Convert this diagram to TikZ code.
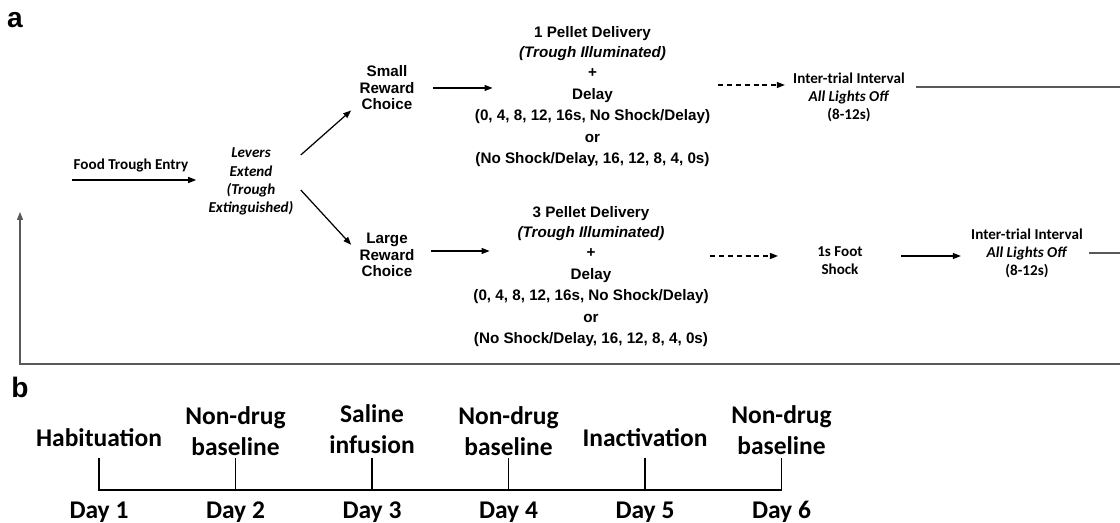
\documentclass[tikz,border=0pt]{standalone}
\usepackage{fontspec}
\setmainfont{Carlito}
\newfontfamily\arialfont{Liberation Sans}
\usepackage{tikz}
\usetikzlibrary{positioning,arrows.meta,calc}

\begin{document}
\begin{tikzpicture}[>={Triangle[length=1.6mm,width=1.2mm]},
  armtxt/.style={font=\arialfont\fontsize{8.66}{9.4}\selectfont\bfseries, align=center, inner sep=0pt},
  pelletbox/.style={armtxt, font=\arialfont\fontsize{8.66}{10.8}\selectfont\bfseries},
  calitxt/.style={font=\fontsize{8.6}{10.3}\selectfont\bfseries, align=center, inner sep=0pt},
  panel/.style={font=\arialfont\fontsize{16}{16}\selectfont\bfseries, inner sep=0pt},
  flowarr/.style={->, line width=0.7pt},
  waitarr/.style={->, line width=0.7pt, dash pattern=on 2.8pt off 2.2pt},
  backline/.style={draw=black!65, line width=0.7pt},
  phase/.style={font=\fontsize{14.5}{17.4}\selectfont\bfseries, align=center, inner sep=0pt},
  tl/.style={line width=1.1pt}]

\useasboundingbox (0,0) rectangle (22.4,10.46);

\node[panel] (pa) at (0.30,10.06) {a};
\node[panel] (pb) at (0.40,2.72) {b};

\node[calitxt] (food) at (2.62,7.16) {Food Trough Entry};
\coordinate (foodin) at (1.44,6.86);
\node[calitxt, font=\fontsize{8.6}{10.3}\selectfont\bfseries\itshape] (levers) at (5.02,6.83) {Levers\\ Extend\\ (Trough\\ Extinguished)};

\node[armtxt] (small) at (7.74,8.70) {Small\\ Reward\\ Choice};
\node[armtxt] (large) at (7.74,5.36) {Large\\ Reward\\ Choice};

\node[pelletbox] (pellet1) at (11.85,8.53) {1 Pellet Delivery\\[0.8pt] \textit{(Trough Illuminated)}\\[0.8pt] +\\[1.4pt] Delay\\[1.4pt] (0, 4, 8, 12, 16s, No Shock/Delay)\\[1.4pt] or\\[1.4pt] (No Shock/Delay, 16, 12, 8, 4, 0s)};
\node[pelletbox] (pellet2) at (11.82,4.93) {3 Pellet Delivery\\[0.8pt] \textit{(Trough Illuminated)}\\[0.8pt] +\\[1.4pt] Delay\\[1.4pt] (0, 4, 8, 12, 16s, No Shock/Delay)\\[1.4pt] or\\[1.4pt] (No Shock/Delay, 16, 12, 8, 4, 0s)};

\node[calitxt] (iti1) at (16.98,8.51) {Inter-trial Interval\\ \textit{All Lights Off}\\ (8-12s)};
\node[calitxt] (shock) at (16.80,5.24) {1s Foot\\ Shock};
\node[calitxt] (iti2) at (20.54,5.40) {Inter-trial Interval\\ \textit{All Lights Off}\\ (8-12s)};

\coordinate (ret1) at (22.4,8.72);
\coordinate (ret2) at (22.4,5.40);
\coordinate (loopr) at (22.4,3.18);
\coordinate (loopt) at (0.40,6.22);

\draw[flowarr, shorten >=0.24cm] (foodin) -- (foodin -| levers.west);
\draw[flowarr] ([xshift=0.14cm,yshift=0.53cm]levers.east) -- ([xshift=-0.16cm]small.south west);
\draw[flowarr] ([xshift=0.14cm,yshift=-0.17cm]levers.east) -- ([xshift=-0.16cm,yshift=-0.24cm]large.north west);
\draw[flowarr, shorten <=0.37cm, shorten >=-0.36cm] (small.east) -- (small.east -| pellet1.west);
\draw[flowarr, shorten <=0.32cm, shorten >=-0.33cm] ([yshift=0.08cm]large.east) -- ([yshift=0.08cm]large.east -| pellet2.west);
\draw[waitarr, shorten <=0.16cm, shorten >=0.16cm] ([yshift=0.23cm]pellet1.east) -- ([yshift=0.23cm]pellet1.east -| iti1.west);
\draw[waitarr, shorten <=0.03cm, shorten >=0.78cm] ([yshift=0.41cm]pellet2.east) -- ([yshift=0.41cm]pellet2.east -| shock.west);
\draw[flowarr, shorten <=0.76cm, shorten >=0.20cm] ([yshift=0.10cm]shock.east) -- ([yshift=0.10cm]shock.east -| iti2.west);

\draw[backline, shorten <=0.22cm] (iti1.east |- ret1) -- (ret1);
\draw[backline, shorten <=0.12cm] (iti2.east |- ret2) -- (ret2);
\draw[backline, ->] (loopr) -| (loopt);

\coordinate (t1) at (1.98,0.66);
\coordinate (t2) at (4.71,0.66);
\coordinate (t3) at (7.44,0.66);
\coordinate (t4) at (10.17,0.66);
\coordinate (t5) at (12.90,0.66);
\coordinate (t6) at (15.63,0.66);

\draw[tl] ([yshift=0.64cm]t1) -- (t1) -- (t6) -- ([yshift=0.64cm]t6);
\draw[tl] (t2) -- ([yshift=0.64cm]t2);
\draw[tl] (t3) -- ([yshift=0.64cm]t3);
\draw[tl] (t4) -- ([yshift=0.64cm]t4);
\draw[tl] (t5) -- ([yshift=0.64cm]t5);

\node[phase] (ph1) at (1.98,1.70) {Habituation};
\node[phase] (ph2) at (4.71,1.84) {Non-drug\\ baseline};
\node[phase] (ph3) at (7.44,1.88) {Saline\\ infusion};
\node[phase] (ph4) at (10.17,1.84) {Non-drug\\ baseline};
\node[phase] (ph5) at (12.90,1.70) {Inactivation};
\node[phase] (ph6) at (15.63,1.86) {Non-drug\\ baseline};

\node[phase] (day1) at (1.98,0.22) {Day 1};
\node[phase] (day2) at (4.71,0.22) {Day 2};
\node[phase] (day3) at (7.44,0.22) {Day 3};
\node[phase] (day4) at (10.17,0.22) {Day 4};
\node[phase] (day5) at (12.90,0.22) {Day 5};
\node[phase] (day6) at (15.63,0.22) {Day 6};

\end{tikzpicture}
\end{document}
